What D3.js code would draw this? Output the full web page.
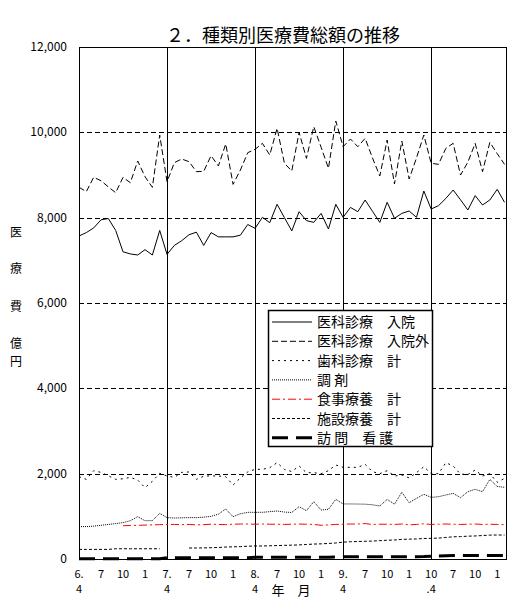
<!DOCTYPE html>
<html>
<head>
<meta charset="utf-8">
<script src="https://cdn.jsdelivr.net/npm/d3@7"></script>
<style>
  body { margin: 0; background: #fff; }
  svg { font-family: "Noto Sans CJK JP", sans-serif; }
</style>
</head>
<body>
<svg id="chart" width="518" height="602"></svg>
<script>
// monthly totals, 億円, from H6.4 to H11.2
const nyuin = [7570, 7650, 7760, 7950, 7980, 7700, 7200, 7150, 7125, 7250, 7125, 7700,
  7140, 7350, 7460, 7600, 7660, 7350, 7650, 7550, 7550, 7550, 7590, 7840,
  7750, 8008, 7883, 8313, 8000, 7690, 8140, 7930, 7890, 8100, 7734, 8313,
  8008, 8240, 8140, 8414, 8150, 7890, 8360, 7985, 8100, 8156, 8008, 8625,
  8203, 8281, 8450, 8648, 8420, 8180, 8516, 8297, 8414, 8664, 8360]
const gairai = [8711, 8610, 8945, 8867, 8720, 8585, 8945, 8820, 9328, 8960, 8711, 9937,
  8843, 9289, 9375, 9312, 9078, 9086, 9452, 9211, 9727, 8781, 9117, 9523,
  9602, 9742, 9469, 10094, 9274, 9094, 10000, 9390, 10133, 9650, 9157, 10265,
  9664, 9844, 9664, 9860, 9400, 8977, 9820, 8789, 9797, 8906, 9400, 9937,
  9274, 9250, 9625, 9742, 9000, 9300, 9742, 9078, 9766, 9500, 9250]
const shika = [1930, 1867, 2070, 2030, 1950, 1867, 1880, 1914, 1850, 1672, 1820, 2008,
  1945, 1914, 2031, 2040, 1867, 1940, 1950, 1945, 1930, 1734, 1900, 2040,
  2102, 2102, 2140, 2258, 2100, 2050, 2180, 2023, 2023, 2000, 2070, 2203,
  2148, 2148, 2148, 2219, 2047, 2000, 2070, 1945, 1969, 1900, 2023, 2164,
  2000, 2000, 2258, 2180, 1990, 1980, 2086, 1945, 2000, 1797, 1890]
const chozai = [758, 760, 770, 790, 810, 830, 852, 898, 992, 898, 898, 1070,
  969, 960, 965, 970, 970, 980, 1000, 1050, 1172, 992, 1060, 1094,
  1094, 1094, 1110, 1125, 1100, 1090, 1227, 1133, 1344, 1148, 1164, 1398,
  1290, 1290, 1288, 1285, 1270, 1242, 1398, 1285, 1563, 1320, 1420, 1516,
  1445, 1460, 1500, 1539, 1437, 1578, 1633, 1578, 1867, 1700, 1680]
const shokuji = [null, null, null, null, null, null, 780, 785, 790, 795, 800, 805,
  810, 810, 805, 810, 800, 805, 815, 810, 805, 815, 820, 820,
  815, 820, 815, 815, 810, 815, 820, 815, 810, 790, 800, 810,
  815, 820, 820, 830, 810, 815, 815, 810, 820, 800, 810, 825,
  810, 815, 820, 815, 810, 815, 820, 810, 815, 810, 805]
const shisetsu = [225, 225, 225, 225, 225, 240, 240, 240, 240, 240, 240, 240,
  null, null, null, 258, 258, 260, 265, 270, 280, 285, 290, 300,
  305, 305, 310, 315, 320, 325, 330, 340, 350, 355, 365, 375,
  395, 405, 410, 415, 420, 430, 440, 445, 460, 465, 470, 480,
  485, 490, 505, 520, 525, 535, 540, 550, 560, 562, 562]
const houmon = [5, 5, 5, 5, 5, 5, 5, 5, 5, 5, 5, 8,
  30, 30, 30, 30, 30, 30, 30, 30, 30, 30, 30, 32,
  40, 40, 40, 40, 40, 40, 40, 40, 40, 40, 42, 45,
  55, 55, 55, 55, 55, 55, 55, 55, 55, 55, 55, 58,
  65, 70, 75, 80, 80, 80, 80, 80, 80, 80, 80]

const seriesNames = ["医科診療　入院", "医科診療　入院外", "歯科診療　計", "調 剤", "食事療養　計", "施設療養　計", "訪 問　看 護"]
const yTicks = [0, 2000, 4000, 6000, 8000, 10000, 12000]
const xTickTop = ["6.", "7", "10", "1", "7.", "7", "10", "1", "8.", "7", "10", "1", "9.", "7", "10", "1", "10", "7", "10", "1"]
const xTickBottom = ["4", "", "", "", "4", "", "", "", "4", "", "", "", "4", "", "", "", ".4", "", "", ""]

const svg = d3.select("#chart")
const plot = {left: 79, right: 506, top: 47, bottom: 559}

const x = d3.scaleLinear().domain([0, 58.2]).range([plot.left, plot.right])
const y = d3.scaleLinear().domain([0, 12000]).range([plot.bottom, plot.top])

// title
svg.append("text")
  .attr("x", 283).attr("y", 42)
  .attr("text-anchor", "middle")
  .attr("font-size", 18)
  .text("２．種類別医療費総額の推移")

// horizontal dashed grid
svg.append("g")
  .selectAll("line")
  .data(yTicks.filter(d => d > 0 && d < 12000))
  .join("line")
  .attr("x1", plot.left).attr("x2", plot.right)
  .attr("y1", d => Math.round(y(d)) + 0.5).attr("y2", d => Math.round(y(d)) + 0.5)
  .attr("stroke", "#000")
  .attr("stroke-dasharray", "5,3")

// year separators
svg.append("g")
  .selectAll("line")
  .data([12, 24, 36, 48])
  .join("line")
  .attr("x1", d => Math.round(x(d)) + 0.5).attr("x2", d => Math.round(x(d)) + 0.5)
  .attr("y1", plot.top).attr("y2", plot.bottom)
  .attr("stroke", "#000")

// frame
svg.append("rect")
  .attr("x", plot.left + 0.5).attr("y", plot.top + 0.5)
  .attr("width", plot.right - plot.left).attr("height", plot.bottom - plot.top)
  .attr("fill", "none").attr("stroke", "#000")

// y labels
svg.append("g")
  .selectAll("text")
  .data(yTicks)
  .join("text")
  .attr("x", 67).attr("y", d => y(d) + 4)
  .attr("text-anchor", "end")
  .attr("font-size", 12)
  .text(d => d3.format(",")(d))

// y title, vertical
const yTitle = [["医", 237], ["療", 273], ["費", 311], ["億", 348], ["円", 366]]
svg.append("g")
  .selectAll("text")
  .data(yTitle)
  .join("text")
  .attr("x", 16).attr("y", d => d[1])
  .attr("text-anchor", "middle")
  .attr("font-size", 12)
  .text(d => d[0])

// x labels
svg.append("g")
  .selectAll("text")
  .data(xTickTop)
  .join("text")
  .attr("x", (d, i) => x(i * 3))
  .attr("y", 578)
  .attr("text-anchor", "middle")
  .attr("font-size", 11)
  .text(d => d)
svg.append("g")
  .selectAll("text")
  .data(xTickBottom)
  .join("text")
  .attr("x", (d, i) => x(i * 3))
  .attr("y", 593)
  .attr("text-anchor", "middle")
  .attr("font-size", 11)
  .text(d => d)
svg.append("text")
  .attr("x", 291).attr("y", 595)
  .attr("text-anchor", "middle")
  .attr("font-size", 13)
  .text("年　月")

// series lines
const styles = [
  {data: nyuin, color: "#000", width: 1, dash: null},
  {data: gairai, color: "#000", width: 1, dash: "6,3"},
  {data: shika, color: "#000", width: 1, dash: "2,4"},
  {data: chozai, color: "#000", width: 1, dash: "1,1"},
  {data: shokuji, color: "#ff0000", width: 1, dash: "8,3,2,3"},
  {data: shisetsu, color: "#000", width: 1, dash: "3,2"},
  {data: houmon, color: "#000", width: 3, dash: "16,8"}
]
const line = d3.line()
  .defined(d => d != null)
  .x((d, i) => x(i))
  .y(d => y(d))

svg.append("g")
  .selectAll("path")
  .data(styles)
  .join("path")
  .attr("d", s => line(s.data))
  .attr("fill", "none")
  .attr("stroke", s => s.color)
  .attr("stroke-width", s => s.width)
  .attr("stroke-dasharray", s => s.dash)

// legend
const lg = svg.append("g").attr("transform", "translate(268,310)")
lg.append("rect")
  .attr("x", 0.5).attr("y", 0.5)
  .attr("width", 164).attr("height", 136)
  .attr("fill", "#fff").attr("stroke", "#000").attr("stroke-width", 1.5)
const rows = lg.selectAll("g.row")
  .data(styles)
  .join("g")
  .attr("class", "row")
  .attr("transform", (d, i) => `translate(0, ${12 + i * 19.3})`)
rows.append("line")
  .attr("x1", 4).attr("x2", 44)
  .attr("y1", 0).attr("y2", 0)
  .attr("stroke", s => s.color)
  .attr("stroke-width", s => s.width)
  .attr("stroke-dasharray", s => s.dash)
rows.append("text")
  .attr("x", 49).attr("y", 5)
  .attr("font-size", 14)
  .text((d, i) => seriesNames[i])
</script>
</body>
</html>
